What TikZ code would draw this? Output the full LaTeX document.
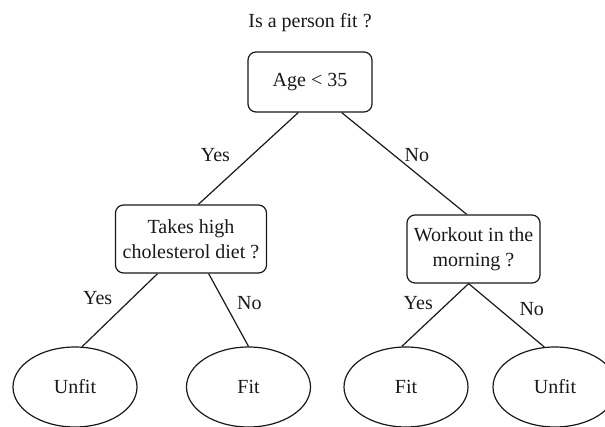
\documentclass[tikz,border=0pt]{standalone}
\usepackage{fontspec}
\setmainfont{Liberation Serif}
\usetikzlibrary{positioning, shapes.geometric}

\begin{document}
\begin{tikzpicture}[
    font=\fontsize{20}{25}\selectfont,
    color=black!90,
    line width=1.2pt,
    decision/.style={
        draw,
        rounded corners=8pt,
        align=center,
        inner xsep=5pt,
        minimum height=60pt,
        on grid
    },
    outcome/.style={
        draw,
        ellipse,
        minimum width=124pt,
        minimum height=80pt,
        inner sep=0pt,
        on grid
    },
    branch/.style={inner sep=2pt}
]
\useasboundingbox (0,0) rectangle (605pt,426pt);

% root
\node[decision, minimum width=124pt] (age) at (310pt,344pt) {Age < 35};
\node[on grid, inner sep=0pt, above=59pt of age] (title) {Is a person fit ?};

% second level
\node[decision, minimum width=151pt, minimum height=68pt, below left=157pt and 119pt of age] (diet) {Takes high\\cholesterol diet ?};
\node[decision, minimum width=133pt, minimum height=68pt, below right=167pt and 163.5pt of age] (workout) {Workout in the\\morning ?};

% leaves
\node[outcome, below left=148pt and 116pt of diet] (unfitA) {Unfit};
\node[outcome, below right=148pt and 57.5pt of diet] (fitA) {Fit};
\node[outcome, below left=138pt and 67.5pt of workout] (fitB) {Fit};
\node[outcome, below right=138pt and 81.5pt of workout] (unfitB) {Unfit};

% branches
\path
(age.249) edge node[branch, pos=0.46, left=19.7pt] {Yes} (diet.78)
(age.316) edge node[branch, pos=0.42, right=7.8pt] {No} (workout.101)
(diet.226) edge node[branch, pos=0.33, left=17.8pt] {Yes} (unfitA.80)
(diet.297) edge node[branch, pos=0.4, right=10pt] {No} (fitA.north)
(workout.262) edge node[branch, pos=0.31, left=12.5pt] {Yes} (fitB.96)
(workout.262) edge node[branch, pos=0.4, right=18pt] {No} (unfitB.105);
\end{tikzpicture}
\end{document}
